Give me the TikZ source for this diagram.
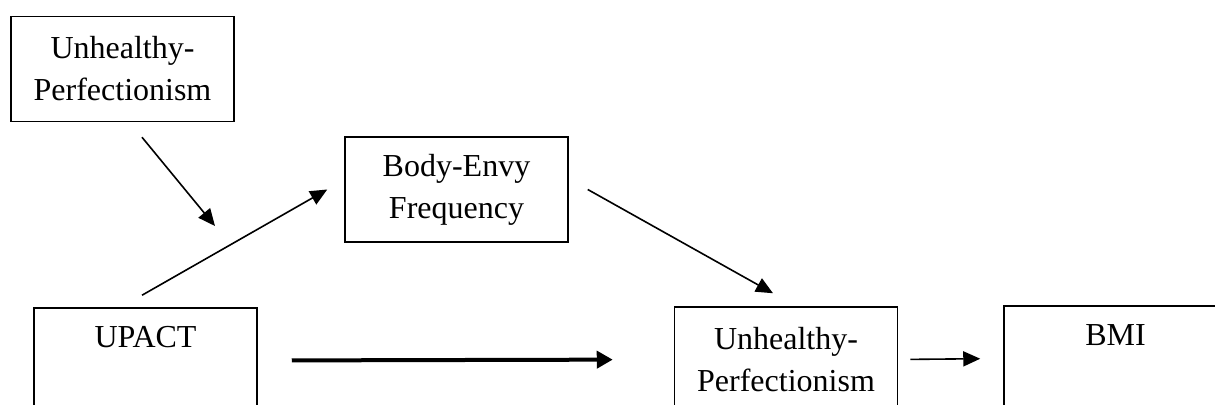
\documentclass[tikz,border=0pt]{standalone}
\usepackage{fontspec}
\setmainfont{Liberation Serif}
\usepackage{tikz}
\usetikzlibrary{positioning, arrows.meta}

\begin{document}
\begin{tikzpicture}[x=0.5pt, y=-0.5pt,
        box/.style={rectangle, draw=black, line width=0.75pt, inner sep=0pt,
            minimum width=111.5pt, minimum height=52.5pt, align=center,
            font=\fontsize{16}{21}\selectfont},
        arr/.style={line width=0.8pt, -{Triangle[length=8.5pt, width=7.5pt]}},
        thickarr/.style={line width=2pt, -{Triangle[length=8pt, width=8.5pt]}}]
            \clip (0, 0) rectangle (1215, 405);
            \node[box] (perf1) at (122.5, 69) {Unhealthy-\\Perfectionism};
            \node[box] (envy) at (456.5, 189.5) {Body-Envy\\Frequency};
            \node[box] (upact) at (145.5, 360.5) {\strut UPACT\\\strut};
            \node[box] (perf2) at (786, 359.5) {Unhealthy-\\Perfectionism};
            \node[box] (bmi) at (1115.5, 358.5) {\strut BMI\\\strut};
            \coordinate (modtip) at (215, 226);

            \draw[arr] ([xshift=9.75pt, yshift=-7.5pt]perf1.south) -- (modtip);
            \draw[arr] ([xshift=-1.75pt, yshift=6pt]upact.north) -- ([xshift=-8.5pt]envy.west);
            \draw[arr] ([xshift=9.5pt]envy.east) -- ([xshift=-6.5pt, yshift=6.5pt]perf2.north);
            \draw[thickarr, shorten <=17pt, shorten >=30.5pt] (upact.east) -- (perf2.west);
            \draw[arr, shorten <=6pt, shorten >=11.5pt] (perf2.east) -- (bmi.west);
        \end{tikzpicture}
\end{document}
